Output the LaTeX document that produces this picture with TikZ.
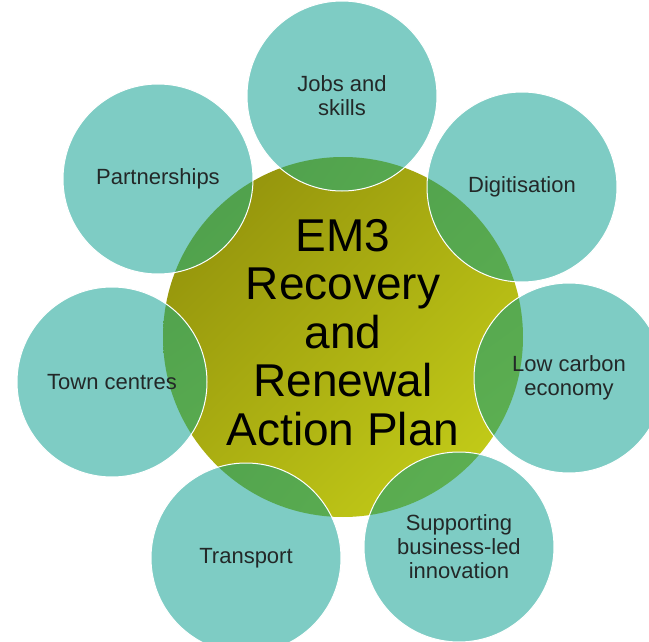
\documentclass[tikz,border=0pt]{standalone}
\usepackage{fontspec}
\setmainfont{Liberation Sans}
\usepackage{xcolor}
\usepackage{tikz}
\usetikzlibrary{shapes,shadings,positioning}

\definecolor{topicteal}{RGB}{126,204,196}
\definecolor{oliveDark}{RGB}{140,138,10}
\definecolor{oliveMid}{RGB}{172,176,18}
\definecolor{oliveLight}{RGB}{202,212,26}
\definecolor{greenDark}{RGB}{72,152,74}
\definecolor{greenMid}{RGB}{86,168,79}
\definecolor{greenLight}{RGB}{100,183,84}
\definecolor{labelgray}{RGB}{35,40,40}

\begin{document}
\begin{tikzpicture}[
    x=1pt,y=-1pt,
    hub/.style={circle,inner sep=0pt,minimum size=360pt,shade,
        upper left=oliveDark,upper right=oliveMid,lower left=oliveMid,lower right=oliveLight},
    title/.style={inner sep=0pt,align=center,font=\fontsize{46}{48.5}\selectfont},
    overlap/.style={upper left=greenDark,upper right=greenMid,lower left=greenMid,lower right=greenLight},
    topic/.style={circle,inner sep=0pt,minimum size=190pt,align=center,fill=topicteal,draw=white,line width=1pt,
        text=labelgray,font=\fontsize{22}{24}\selectfont,
        path picture={\shade[overlap] (core.center) circle (180pt);}}
]
\useasboundingbox (0,0) rectangle (649,642);

\node[hub] (core) at (343,337) {};
\node[title] (plan) at ([yshift=4.5pt]core.center) {EM3\\Recovery\\and\\Renewal\\Action Plan};

\node[topic] (jobs) at (342,96) {Jobs and\\skills};
\node[topic] (digital) at (522,187) {Digitisation};
\node[topic] (lowcarbon) at (569,378) {Low carbon\\economy};
\node[topic] (innovation) at (459,547) {Supporting\\business-led\\innovation};
\node[topic] (transport) at (246,558) {Transport};
\node[topic] (towns) at (112,382) {Town centres};
\node[topic] (partners) at (158,179) {Partnerships};
\end{tikzpicture}
\end{document}
